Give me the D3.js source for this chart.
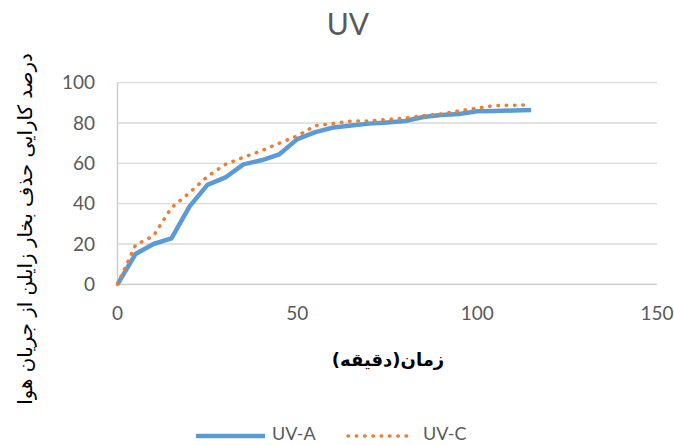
<!DOCTYPE html>
<html>
<head>
<meta charset="utf-8">
<script src="https://cdn.jsdelivr.net/npm/d3@7/dist/d3.min.js"></script>
<style>
  body { margin: 0; background: #fff; }
  text { font-family: Lato, "Open Sans", sans-serif; fill: #595959; }
  .fa { font-family: "DejaVu Sans", sans-serif; }
</style>
</head>
<body>
<div id="chart"></div>
<script>
// time in minutes
const times = [0, 5, 10, 15, 20, 25, 30, 35, 40, 45, 50, 55, 60, 65, 70, 75, 80, 85, 90, 95, 100, 105, 110, 115]
const uvA = [0, 15, 20, 22.8, 38.5, 49.3, 53, 59.5, 61.5, 64.5, 72, 75.5, 77.8, 78.8, 79.7, 80.3, 81, 83, 84, 84.5, 85.8, 86, 86.2, 86.4]
const uvC = [0, 19.5, 24, 38, 45.4, 53.5, 59.5, 63, 66.2, 70, 73.6, 78.7, 79.8, 81, 81, 81.8, 82.4, 83.7, 84.5, 86, 87.4, 88.7, 88.8, 89]
const xTicks = [0, 50, 100, 150]
const yTicks = [0, 20, 40, 60, 80, 100]
const seriesNames = ['UV-A', 'UV-C']

const width = 674, height = 445

const svg = d3.select('#chart').append('svg')
    .attr('width', width).attr('height', height)

const x = d3.scaleLinear().domain([0, 150]).range([117.5, 657])
const y = d3.scaleLinear().domain([0, 100]).range([284.3, 82.7])

// gridlines
svg.append('g').selectAll('line')
    .data(yTicks.filter(d => d > 0))
    .enter().append('line')
    .attr('x1', x(0)).attr('x2', x(150))
    .attr('y1', d => y(d)).attr('y2', d => y(d))
    .attr('stroke', '#d9d9d9').attr('stroke-width', 1.3)

// axis lines
svg.append('line')
    .attr('x1', x(0)).attr('x2', x(150)).attr('y1', y(0)).attr('y2', y(0))
    .attr('stroke', '#c8c8c8').attr('stroke-width', 1.3)
svg.append('line')
    .attr('x1', x(0)).attr('x2', x(0)).attr('y1', y(0)).attr('y2', y(100))
    .attr('stroke', '#c8c8c8').attr('stroke-width', 1.3)

// tick labels
svg.append('g').selectAll('text')
    .data(yTicks).enter().append('text')
    .attr('x', 95).attr('y', d => y(d))
    .attr('dy', '0.35em')
    .attr('text-anchor', 'end')
    .style('font-size', '19px')
    .text(d => d)
svg.append('g').selectAll('text')
    .data(xTicks).enter().append('text')
    .attr('x', d => x(d)).attr('y', 320)
    .attr('text-anchor', 'middle')
    .style('font-size', '19px')
    .text(d => d)

// lines
const line = d3.line().x((d, i) => x(times[i])).y(d => y(d))

svg.append('path')
    .datum(uvA)
    .attr('d', line)
    .attr('fill', 'none')
    .attr('stroke', '#5b9bd5')
    .attr('stroke-width', 4.5)
    .attr('stroke-linejoin', 'round')

svg.append('path')
    .datum(uvC)
    .attr('d', line)
    .attr('fill', 'none')
    .attr('stroke', '#ed7d31')
    .attr('stroke-width', 3.5)
    .attr('stroke-linecap', 'round')
    .attr('stroke-dasharray', '0.5 7.8')

// title
svg.append('text')
    .attr('x', 348).attr('y', 35)
    .attr('text-anchor', 'middle')
    .style('font-size', '30px')
    .text('UV')

// axis titles
svg.append('text')
    .attr('class', 'fa')
    .attr('x', 388).attr('y', 366)
    .attr('text-anchor', 'middle')
    .style('font-size', '18px')
    .style('font-weight', 'bold')
    .style('fill', '#000')
    .text('زمان(دقیقه)')

svg.append('text')
    .attr('class', 'fa')
    .attr('transform', 'translate(32,229) rotate(-90)')
    .attr('text-anchor', 'middle')
    .style('font-size', '19.8px')
    .style('fill', '#000')
    .text('درصد کارایی حذف بخار زایلن از جریان هوا')

// legend
const legend = svg.append('g')
legend.append('line')
    .attr('x1', 196).attr('x2', 265).attr('y1', 436).attr('y2', 436)
    .attr('stroke', '#5b9bd5').attr('stroke-width', 4.5)
legend.append('text')
    .attr('x', 272).attr('y', 439.5)
    .style('font-size', '18px')
    .text(seriesNames[0])
legend.append('line')
    .attr('x1', 348).attr('x2', 412).attr('y1', 436).attr('y2', 436)
    .attr('stroke', '#ed7d31').attr('stroke-width', 3.5)
    .attr('stroke-linecap', 'round')
    .attr('stroke-dasharray', '0.5 7.8')
legend.append('text')
    .attr('x', 423).attr('y', 439.5)
    .style('font-size', '18px')
    .text(seriesNames[1])
</script>
</body>
</html>
